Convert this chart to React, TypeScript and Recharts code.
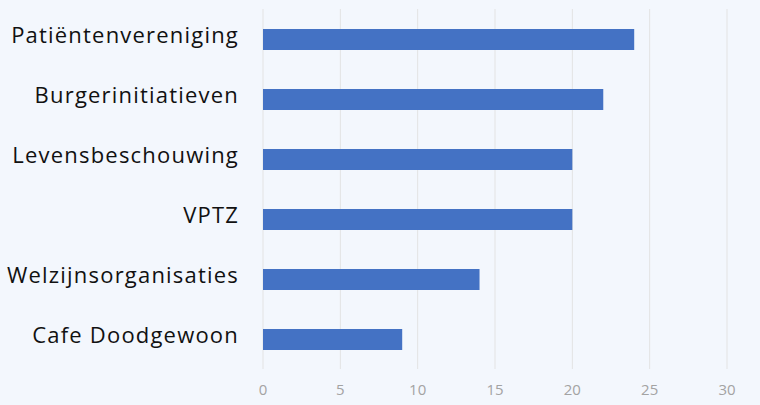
import { Bar, BarChart, CartesianGrid, XAxis, YAxis } from "recharts";

const categories = [
  "Patiëntenvereniging",
  "Burgerinitiatieven",
  "Levensbeschouwing",
  "VPTZ",
  "Welzijnsorganisaties",
  "Cafe Doodgewoon",
];
const values = [24, 22, 20, 20, 14, 9];
const xTicks = [0, 5, 10, 15, 20, 25, 30];

const data = categories.map((name, i) => ({ name, value: values[i] }));

export default function App() {
  return (
    <div style={{ position: "absolute", top: 0, left: 0, width: 760, height: 405, background: "#f3f7fd" }}>
      <BarChart width={760} height={405} data={data} layout="vertical" margin={{ top: 9, right: 33, left: 0, bottom: 0 }}>
        <CartesianGrid horizontal={false} stroke="#e3e3e3" />
        <XAxis
          type="number"
          domain={[0, 30]}
          ticks={xTicks}
          axisLine={false}
          tickLine={false}
          tickSize={0}
          tickMargin={15}
          height={36}
          tick={{ fill: "#a3a3a3", fontSize: 15, fontFamily: "Open Sans" }}
        />
        <YAxis
          type="category"
          dataKey="name"
          width={263}
          axisLine={false}
          tickLine={false}
          tickSize={0}
          tickMargin={24}
          tick={{ fill: "#111111", fontSize: 22, fontFamily: "Open Sans", letterSpacing: 1.2, dy: -4 }}
        />
        <Bar dataKey="value" fill="#4472c4" barSize={21} isAnimationActive={false} />
      </BarChart>
    </div>
  );
}
